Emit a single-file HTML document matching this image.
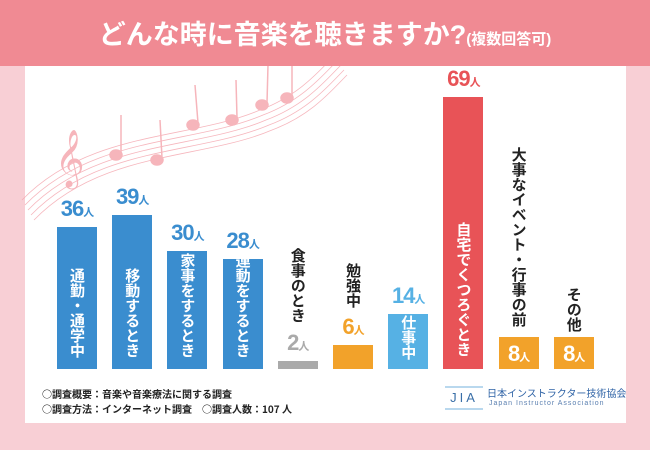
<!DOCTYPE html>
<html><head><meta charset="utf-8"><style>
body{margin:0;width:650px;height:450px;background:#f8cfd5;position:relative;overflow:hidden;font-family:"Liberation Sans","Noto Sans CJK JP",sans-serif}
#panel{position:absolute;left:25px;top:60px;width:601px;height:363px;background:#fff}
#header{position:absolute;left:0;top:0;width:650px;height:66px;background:#f08a93}
#title{position:absolute;left:0;top:13px;width:650px;text-align:center;color:#fff;font-size:27px;font-weight:bold;letter-spacing:0px}
#title small{font-size:15px}
.bar{position:absolute;width:40px}
.val{position:absolute;width:60px;text-align:center;font-weight:bold;font-size:22px;font-family:"Liberation Sans",sans-serif;letter-spacing:-1px}
.val span{font-size:11px;font-family:"Noto Sans CJK JP",sans-serif}
.cat{position:absolute;writing-mode:vertical-rl;font-weight:bold;font-size:15px;line-height:18px;letter-spacing:0;font-family:"Noto Sans CJK JP",sans-serif}
.note{position:absolute;left:42px;font-size:10px;font-weight:bold;color:#222;font-family:"Noto Sans CJK JP",sans-serif;white-space:nowrap}
svg{position:absolute;left:0;top:0}
</style></head><body>
<div id="panel"></div>
<svg width="650" height="450">
<g fill="none" stroke="#f4a5ad" stroke-width="0.8" opacity="0.8">
<path d="M22,200 C90,130 190,140 260,110 C300,95 320,70 335,55"/>
<path d="M25,205 C93,135 193,145 263,115 C303,100 323,75 338,60"/>
<path d="M28,210 C96,140 196,150 266,120 C306,105 326,80 341,65"/>
<path d="M31,215 C99,145 199,155 269,125 C309,110 329,85 344,70"/>
<path d="M34,220 C102,150 202,160 272,130 C312,115 332,90 347,75"/>
</g>
<g fill="#f6b5bb" stroke="#f6b5bb" stroke-width="1.5">
<ellipse cx="116" cy="155" rx="6" ry="5"/><line x1="121" y1="153" x2="121" y2="115"/>
<ellipse cx="157" cy="160" rx="6" ry="5"/><line x1="162" y1="158" x2="160" y2="120"/>
<ellipse cx="193" cy="125" rx="6" ry="5"/><line x1="198" y1="123" x2="195" y2="85"/>
<ellipse cx="232" cy="120" rx="6" ry="5"/><line x1="237" y1="118" x2="236" y2="80"/>
<ellipse cx="262" cy="105" rx="6" ry="5"/><line x1="267" y1="103" x2="268" y2="65"/>
<ellipse cx="287" cy="98" rx="6" ry="5"/><line x1="292" y1="96" x2="292" y2="58"/>
</g>
<text x="55" y="175" font-size="50" fill="#f6b5bb" font-family="DejaVu Sans">𝄞</text>
</svg>
<div id="header"></div>
<div id="title">どんな時に音楽を聴きますか?<small>(複数回答可)</small></div>
<div id="chart"></div>
<div class="note" style="top:386px">○調査概要：音楽や音楽療法に関する調査</div>
<div class="note" style="top:401px">○調査方法：インターネット調査　○調査人数：107 人</div>
<div style="position:absolute;left:445px;top:386px;width:180px;height:30px">
<div style="position:absolute;left:0;top:0;width:38px;height:20px;border-top:2px solid #b9d8ee;border-bottom:2px solid #b9d8ee;color:#3a6fa8;font-size:13px;text-align:center;line-height:20px;letter-spacing:3px">JIA</div>
<div style="position:absolute;left:42px;top:0;color:#2f63a6;font-size:10px;font-family:'Noto Sans CJK JP',sans-serif;line-height:14px;white-space:nowrap">日本インストラクター技術協会</div>
<div style="position:absolute;left:44px;top:14px;color:#5a7fb0;font-size:7px;letter-spacing:1px;white-space:nowrap">Japan Instructor Association</div>
</div>
<script>
const categories=["通勤・通学中","移動するとき","家事をするとき","運動をするとき","食事のとき","勉強中","仕事中","自宅でくつろぐとき","大事なイベント・行事の前","その他"];
const values=[36,39,30,28,2,6,14,69,8,8];
const colors=["#3a8dcf","#3a8dcf","#3a8dcf","#3a8dcf","#aaaaaa","#f2a22a","#56b1e4","#e85357","#f2a22a","#f2a22a"];
const catInside=[true,true,true,true,false,false,true,true,false,false];
const valInside=[false,false,false,false,false,false,false,false,true,true];
const baseY=369,scale=3.94,x0=57,step=55.2,bw=40,ch=15.5;
const yOf=v=>baseY-v*scale;
const xOf=i=>x0+i*step;
const root=document.body;
categories.forEach((c,i)=>{
  const x=xOf(i),top=yOf(values[i]);
  const b=document.createElement('div');b.className='bar';
  
  
  b.style.left=x+'px';b.style.top=top+'px';b.style.height=(baseY-top)+'px';b.style.background=colors[i];
  root.appendChild(b);
  const v=document.createElement('div');v.className='val';
  
  
  v.innerHTML=values[i]+'<span>人</span>';
  v.style.left=(x-10)+'px';
  if(valInside[i]){v.style.top=(baseY-28)+'px';v.style.color='#fff';}
  else{v.style.top=(top-31)+'px';v.style.color=colors[i];}
  root.appendChild(v);
  const t=document.createElement('div');t.className='cat';
  
  
  t.textContent=c;
  const h=c.length*ch;
  t.style.left=(x+11)+'px';
  if(catInside[i]){t.style.color='#fff';t.style.top=(baseY-8-h)+'px';}
  else{t.style.color='#222';const lb=valInside[i]?top-4:top-36;t.style.top=(lb-h)+'px';}
  root.appendChild(t);
});
</script>
</body></html>
